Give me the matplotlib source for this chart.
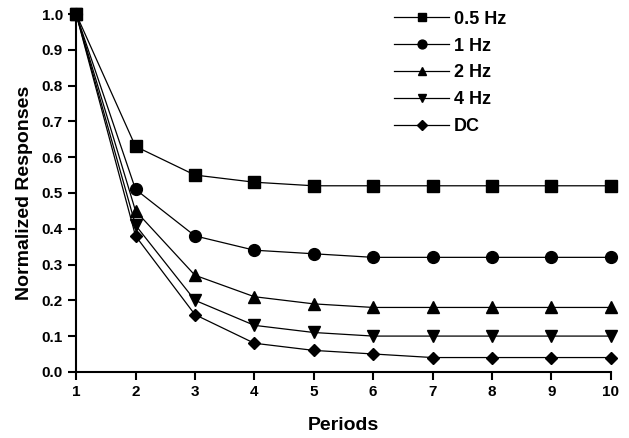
import matplotlib
matplotlib.use("Agg")
import matplotlib.pyplot as plt

periods = [1, 2, 3, 4, 5, 6, 7, 8, 9, 10]
hz_05 = [1.0, 0.63, 0.55, 0.53, 0.52, 0.52, 0.52, 0.52, 0.52, 0.52]
hz_1 = [1.0, 0.51, 0.38, 0.34, 0.33, 0.32, 0.32, 0.32, 0.32, 0.32]
hz_2 = [1.0, 0.45, 0.27, 0.21, 0.19, 0.18, 0.18, 0.18, 0.18, 0.18]
hz_4 = [1.0, 0.41, 0.20, 0.13, 0.11, 0.10, 0.10, 0.10, 0.10, 0.10]
dc = [1.0, 0.38, 0.16, 0.08, 0.06, 0.05, 0.04, 0.04, 0.04, 0.04]

series = [
    ("0.5 Hz", hz_05, "s", 8),
    ("1 Hz", hz_1, "o", 8.5),
    ("2 Hz", hz_2, "^", 8.5),
    ("4 Hz", hz_4, "v", 8.5),
    ("DC", dc, "D", 6.5),
]

plt.rcParams["font.family"] = ["Liberation Sans", "DejaVu Sans"]

fig = plt.figure(figsize=(6.29, 4.38), dpi=100)
ax = fig.add_axes([0.121, 0.151, 0.850, 0.817])

for label, values, marker, size in series:
    ax.plot(periods, values, color="black", linewidth=0.9, marker=marker,
            markersize=size, label=label, clip_on=False)

ax.set_xlim(1, 10)
ax.set_ylim(0, 1.0)
ax.set_xticks(periods)
ax.set_yticks([i / 10 for i in range(11)])
ax.set_yticklabels([f"{i / 10:.1f}" for i in range(11)])

for side in ("top", "right"):
    ax.spines[side].set_visible(False)
for side in ("left", "bottom"):
    ax.spines[side].set_linewidth(1.5)

ax.tick_params(direction="out", length=6, width=1.5, labelsize=11)
for lab in ax.get_xticklabels() + ax.get_yticklabels():
    lab.set_fontweight("bold")

ax.set_xlabel("Periods", fontsize=14, fontweight="bold", labelpad=13)
ax.set_ylabel("Normalized Responses", fontsize=14, fontweight="bold",
              labelpad=6)

leg = ax.legend(loc="upper left", bbox_to_anchor=(0.565, 1.055), frameon=False,
                handlelength=3.0, markerscale=0.75, labelspacing=0.55,
                prop={"weight": "bold", "size": 13}, handletextpad=0.3)

fig.savefig("out.png", dpi=100)
